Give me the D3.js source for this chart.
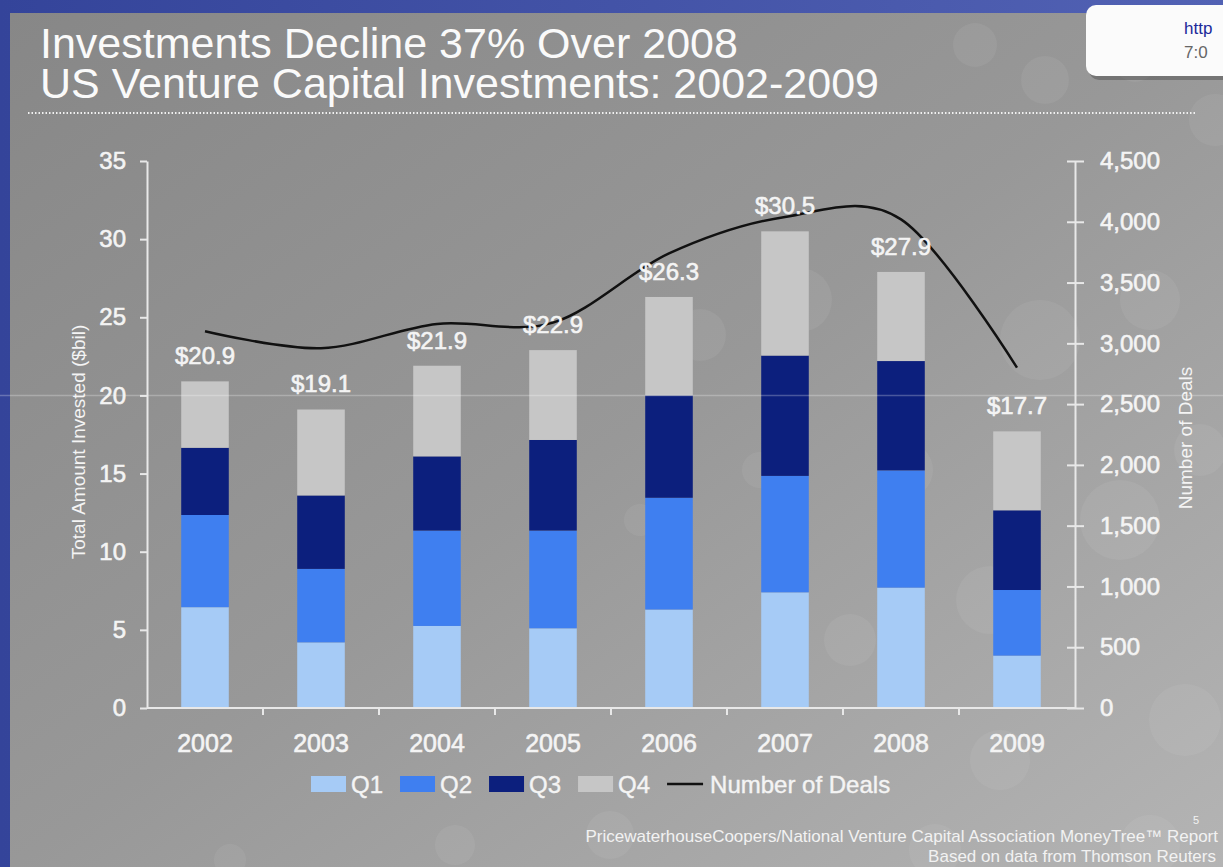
<!DOCTYPE html>
<html lang="en">
<head>
<meta charset="utf-8">
<script src="https://d3js.org/d3.v7.min.js"></script>
<style>
  body { margin: 0; background: #8c8c8c; overflow: hidden; }
  svg { display: block; font-family: "Liberation Sans", Arial, sans-serif; }
</style>
</head>
<body>
<svg id="chart" width="1223" height="867"></svg>
<script>
// ---- data ----
const years  = ["2002", "2003", "2004", "2005", "2006", "2007", "2008", "2009"];
const q1     = [6.45, 4.2, 5.25, 5.1, 6.3, 7.4, 7.7, 3.35];
const q2     = [5.9, 4.7, 6.1, 6.25, 7.15, 7.45, 7.5, 4.2];
const q3     = [4.3, 4.7, 4.75, 5.8, 6.55, 7.7, 7.0, 5.1];
const q4     = [4.25, 5.5, 5.8, 5.75, 6.3, 7.95, 5.7, 5.05];
const totals = [20.9, 19.1, 21.9, 22.9, 26.3, 30.5, 27.9, 17.7];
const deals  = [3100, 2960, 3160, 3170, 3740, 4040, 4020, 2800];
const leftTicks  = [0, 5, 10, 15, 20, 25, 30, 35];
const rightTicks = [0, 500, 1000, 1500, 2000, 2500, 3000, 3500, 4000, 4500];
const quarters = ["Q1", "Q2", "Q3", "Q4"];
const colors   = ["#a6cbf6", "#3f7ff0", "#0c1f7d", "#c6c6c6"];

const width = 1223, height = 867;
const svg = d3.select("#chart");
const txt = "#f4f4f4";

// ---- slide background ----
const defs = svg.append("defs");
const bg = defs.append("linearGradient").attr("id", "bg")
    .attr("x1", 0).attr("y1", 0).attr("x2", 1).attr("y2", 1);
bg.append("stop").attr("offset", 0).attr("stop-color", "#878787");
bg.append("stop").attr("offset", 0.5).attr("stop-color", "#989898");
bg.append("stop").attr("offset", 1).attr("stop-color", "#b4b4b4");
const blue = defs.append("linearGradient").attr("id", "blue");
blue.append("stop").attr("offset", 0).attr("stop-color", "#34449a");
blue.append("stop").attr("offset", 1).attr("stop-color", "#5262b4");

svg.append("rect").attr("width", width).attr("height", height).attr("fill", "url(#blue)");
svg.append("rect").attr("x", 10).attr("y", 13).attr("width", width - 10).attr("height", height - 13)
    .attr("fill", "url(#bg)");

// faint bokeh decoration
const bokeh = [[975,45,22],[1045,80,24],[1135,60,22],[1215,120,26],[1040,340,40],[1150,300,30],
  [1120,520,40],[1185,720,36],[1150,845,30],[935,850,26],[800,300,32],[700,335,26],
  [610,835,24],[455,845,20],[905,470,28],[990,600,34],[850,640,26],[1000,760,30],
  [760,470,18],[640,520,16],[1200,450,26],[230,860,16]];
svg.append("g").selectAll("circle").data(bokeh).join("circle")
    .attr("cx", d => d[0]).attr("cy", d => d[1]).attr("r", d => d[2])
    .attr("fill", "#ffffff").attr("opacity", 0.06);

// little white note box top right
svg.append("rect").attr("x", 1089).attr("y", 9).attr("width", 150).attr("height", 71).attr("rx", 10)
    .attr("fill", "#4a4a4a").attr("opacity", 0.45);
svg.append("rect").attr("x", 1086).attr("y", 5).attr("width", 150).attr("height", 71).attr("rx", 10)
    .attr("fill", "#fbfbfb");
svg.append("text").attr("x", 1184).attr("y", 34).attr("font-size", 17).attr("fill", "#1c2a9a").text("http");
svg.append("text").attr("x", 1184).attr("y", 58).attr("font-size", 17).attr("fill", "#666").text("7:0");

// ---- title ----
const title = svg.append("g").attr("fill", "#fafafa").attr("font-size", 43);
title.append("text").attr("x", 40).attr("y", 58).text("Investments Decline 37% Over 2008");
title.append("text").attr("x", 40).attr("y", 98).text("US Venture Capital Investments: 2002-2009");
svg.append("line").attr("x1", 28).attr("x2", 1196).attr("y1", 113).attr("y2", 113)
    .attr("stroke", "#f0f0f0").attr("stroke-width", 2).attr("stroke-dasharray", "1.5 2");

// ---- scales ----
const x = d3.scaleBand().domain(years).range([147, 1075]).paddingInner(0.59).paddingOuter(0.295);
const y = d3.scaleLinear().domain([0, 35]).range([708, 161]);
const y2 = d3.scaleLinear().domain([0, 4500]).range([708, 161]);

// ---- stacked bars ----
const rows = years.map((yr, i) => ({year: yr, Q1: q1[i], Q2: q2[i], Q3: q3[i], Q4: q4[i]}));
const series = d3.stack().keys(quarters)(rows);
svg.append("g").selectAll("g").data(series).join("g")
    .attr("fill", (d, i) => colors[i])
  .selectAll("rect").data(d => d).join("rect")
    .attr("x", d => x(d.data.year))
    .attr("width", x.bandwidth())
    .attr("y", d => y(d[1]))
    .attr("height", d => y(d[0]) - y(d[1]));

// faint horizontal streak across the slide
svg.append("line").attr("x1", 0).attr("x2", width).attr("y1", y(20)).attr("y2", y(20))
    .attr("stroke", "#ffffff").attr("stroke-opacity", 0.25).attr("stroke-width", 1.5);

// ---- axes ----
const axisColor = "#e8e8e8";
const gl = svg.append("g").attr("transform", "translate(147,0)")
    .call(d3.axisLeft(y).tickValues(leftTicks).tickSize(7).tickSizeOuter(0).tickPadding(14));
const gr = svg.append("g").attr("transform", "translate(1075,0)")
    .call(d3.axisRight(y2).tickValues(rightTicks).tickFormat(d3.format(","))
      .tickSize(9).tickSizeOuter(0).tickPadding(16));
gr.selectAll(".tick line").attr("x1", -8);
const gx = svg.append("g").attr("transform", "translate(0,708)")
    .call(d3.axisBottom(x).tickSize(0).tickPadding(26));
gx.select(".domain").attr("d", "M147,0H1075");
gx.selectAll(".tick").append("line").attr("class", "sep")
    .attr("x1", x.step() / 2).attr("x2", x.step() / 2).attr("y1", 0).attr("y2", 7)
    .filter(d => d === years[years.length - 1]).remove();

[gl, gr, gx].forEach(g => {
  g.selectAll(".domain").attr("stroke", axisColor).attr("stroke-width", 2);
  g.selectAll(".tick line").attr("stroke", axisColor).attr("stroke-width", 2);
  g.selectAll(".tick text").attr("fill", txt).attr("font-size", 24)
      .attr("stroke", txt).attr("stroke-width", 0.6)
      .attr("font-family", "'Liberation Sans', Arial, sans-serif");
});
gx.selectAll(".tick text").attr("font-size", 25);

// axis titles
svg.append("text").attr("transform", "translate(85,442) rotate(-90)")
    .attr("text-anchor", "middle").attr("font-size", 19).attr("fill", txt)
    .text("Total Amount Invested ($bil)");
svg.append("text").attr("transform", "translate(1192,438) rotate(-90)")
    .attr("text-anchor", "middle").attr("font-size", 19).attr("fill", txt)
    .text("Number of Deals");

// ---- number of deals line ----
const cx = yr => x(yr) + x.bandwidth() / 2;
svg.append("path").datum(deals)
    .attr("fill", "none").attr("stroke", "#111").attr("stroke-width", 2.5)
    .attr("d", d3.line().x((d, i) => cx(years[i])).y(d => y2(d)).curve(d3.curveCardinal.tension(0)));

// ---- total labels ----
svg.append("g").selectAll("text").data(totals).join("text")
    .attr("x", (d, i) => cx(years[i]))
    .attr("y", d => y(d) - 17)
    .attr("text-anchor", "middle").attr("font-size", 24).attr("fill", txt)
    .attr("stroke", txt).attr("stroke-width", 0.6)
    .text(d => "$" + d.toFixed(1));

// ---- legend ----
const legend = svg.append("g").attr("font-size", 24).attr("fill", txt)
    .attr("stroke", txt).attr("stroke-width", 0.4);
let lx = 311;
const ly = 793;
quarters.forEach((q, i) => {
  legend.append("rect").attr("x", lx).attr("y", ly - 17).attr("width", 35).attr("height", 16)
      .attr("fill", colors[i]).attr("stroke", "none");
  const t = legend.append("text").attr("x", lx + 40).attr("y", ly).text(q);
  lx += 40 + t.node().getComputedTextLength() + 17;
});
legend.append("line").attr("x1", lx).attr("x2", lx + 36).attr("y1", ly - 9).attr("y2", ly - 9)
    .attr("stroke", "#111").attr("stroke-width", 2.5);
legend.append("text").attr("x", lx + 43).attr("y", ly).text("Number of Deals");

// ---- source footer ----
const foot = svg.append("g").attr("fill", "#f2f2f2").attr("font-size", 17).attr("text-anchor", "end");
foot.append("text").attr("x", 1218).attr("y", 842)
    .text("PricewaterhouseCoopers/National Venture Capital Association MoneyTree\u2122 Report");
foot.append("text").attr("x", 1216).attr("y", 862).text("Based on data from Thomson Reuters");
svg.append("text").attr("x", 1196).attr("y", 824).attr("font-size", 11).attr("fill", "#f2f2f2")
    .attr("text-anchor", "middle").text("5");
</script>
</body>
</html>
